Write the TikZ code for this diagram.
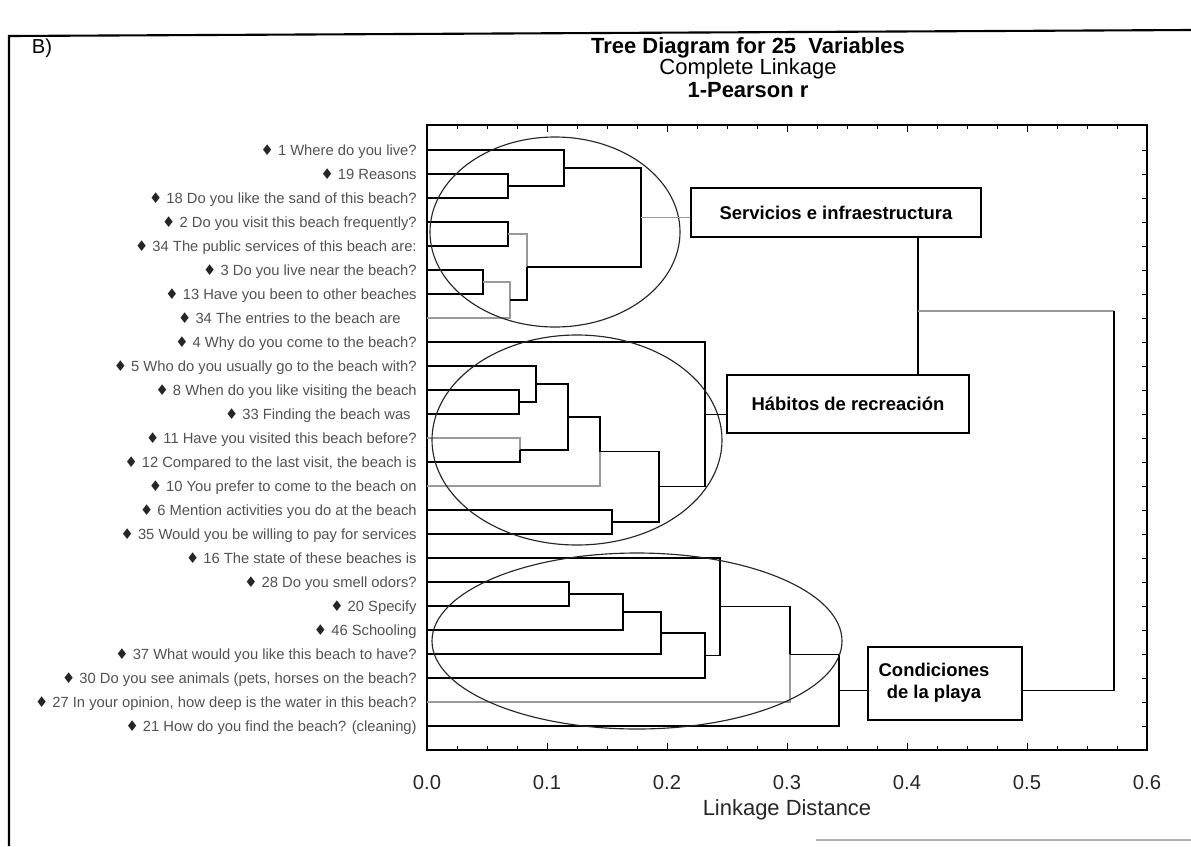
\documentclass[tikz,border=0pt]{standalone}
\usepackage{fontspec}
\setmainfont{Liberation Sans}
\newfontfamily\symfont{DejaVu Sans}
\usetikzlibrary{calc}
\newcommand{\dia}{{\symfont\color{black!85}♦}}

\begin{document}
\begin{tikzpicture}[x=0.02cm, y=-0.02cm,
  den/.style={line width=0.75pt, black},
  faint/.style={line width=0.8pt, black!40},
  lab/.style={anchor=east, inner sep=0pt, text height=1.5ex, text depth=0.3ex,
              font=\fontsize{8.4}{10}\selectfont, text=black!68},
  catbox/.style={draw, line width=0.9pt, inner sep=0pt, align=center,
              font=\bfseries\fontsize{10.5}{12.5}\selectfont},
  ring/.style={line width=0.65pt, black!85},
  axlab/.style={font=\fontsize{11.5}{13}\selectfont, text=black!85, inner sep=0pt},
  ttl/.style={inner sep=0pt},
]
\useasboundingbox (0,0) rectangle (1191,846);

% page frame
\draw[line width=1.2pt] (9,846) -- (9,36) -- (1191,30);
\draw[line width=0.8pt, black!30] (816,840) -- (1191,840);

% headings
\node[ttl, font=\fontsize{11.5}{13}\selectfont] (panel) at (42,48) {B)};
\node[ttl, font=\bfseries\fontsize{12.5}{14}\selectfont] (t1) at (748,48) {Tree Diagram for 25\ \ Variables};
\node[ttl, font=\fontsize{12.5}{14}\selectfont] (t2) at (748,69) {Complete Linkage};
\node[ttl, font=\bfseries\fontsize{12.5}{14}\selectfont] (t3) at (748,90) {1-Pearson r};

% plot frame and ticks
\draw[line width=0.8pt] (427,125) rectangle (1147,750);
\foreach \k in {0,...,24}{
  \pgfmathsetmacro\len{mod(\k,4)==0 ? 7 : 4}
  \draw[line width=0.5pt] (427+30*\k,125) -- ++(0,\len);
  \draw[line width=0.5pt] (427+30*\k,750) -- ++(0,-\len);
}
\foreach \i in {0,...,24}
  \draw[line width=0.5pt] (1147,150+24*\i) -- ++(-5,0);

% axis labels
\foreach \v [count=\k from 0] in {0.0,0.1,0.2,0.3,0.4,0.5,0.6}
  \node[axlab] (x\k) at (427+120*\k,783) {\v};
\node[axlab, font=\fontsize{12.5}{14}\selectfont] (xt) at (787,810) {Linkage Distance};

% leaves
\foreach \i in {1,...,25}
  \coordinate (L\i) at (427,126+24*\i);

\node[lab] (v1)  at (417,150) {\dia\ 1 Where do you live?};
\node[lab] (v2)  at (417,174) {\dia\ 19 Reasons};
\node[lab] (v3)  at (417,198) {\dia\ 18 Do you like the sand of this beach?};
\node[lab] (v4)  at (417,222) {\dia\ 2 Do you visit this beach frequently?};
\node[lab] (v5)  at (417,246) {\dia\ 34 The public services of this beach are:};
\node[lab] (v6)  at (417,270) {\dia\ 3 Do you live near the beach?};
\node[lab] (v7)  at (417,294) {\dia\ 13 Have you been to other beaches};
\node[lab] (v8)  at (401,318) {\dia\ 34 The entries to the beach are};
\node[lab] (v9)  at (417,342) {\dia\ 4 Why do you come to the beach?};
\node[lab] (v10) at (417,366) {\dia\ 5 Who do you usually go to the beach with?};
\node[lab] (v11) at (417,390) {\dia\ 8 When do you like visiting the beach};
\node[lab] (v12) at (411,414) {\dia\ 33 Finding the beach was};
\node[lab] (v13) at (417,438) {\dia\ 11 Have you visited this beach before?};
\node[lab] (v14) at (417,462) {\dia\ 12 Compared to the last visit, the beach is};
\node[lab] (v15) at (417,486) {\dia\ 10 You prefer to come to the beach on};
\node[lab] (v16) at (417,510) {\dia\ 6 Mention activities you do at the beach};
\node[lab] (v17) at (417,534) {\dia\ 35 Would you be willing to pay for services};
\node[lab] (v18) at (417,558) {\dia\ 16 The state of these beaches is};
\node[lab] (v19) at (417,582) {\dia\ 28 Do you smell odors?};
\node[lab] (v20) at (417,606) {\dia\ 20 Specify};
\node[lab] (v21) at (417,630) {\dia\ 46 Schooling};
\node[lab] (v22) at (417,654) {\dia\ 37 What would you like this beach to have?};
\node[lab] (v23) at (417,678) {\dia\ 30 Do you see animals (pets, horses on the beach?};
\node[lab] (v24) at (417,702) {\dia\ 27 In your opinion, how deep is the water in this beach?};
\node[lab] (v25) at (417,726) {\dia\ 21 How do you find the beach? (cleaning)};

% merge points
\coordinate (N1) at (508,186);
\coordinate (N2) at (564,168);
\coordinate (N3) at (508,234);
\coordinate (N4) at (483,282);
\coordinate (N5) at (510,300);
\coordinate (N6) at (527,267);
\coordinate (N7) at (641,217.5);

\coordinate (M1) at (519,402);
\coordinate (M2) at (536,384);
\coordinate (M3) at (520,450);
\coordinate (M4) at (568,417);
\coordinate (M5) at (600,451.5);
\coordinate (M6) at (612,522);
\coordinate (M7) at (659,486.75);
\coordinate (M8) at (705,414.4);

\coordinate (K1) at (569,594);
\coordinate (K2) at (623,612);
\coordinate (K3) at (661,633);
\coordinate (K4) at (705,655.5);
\coordinate (K5) at (720,606.75);
\coordinate (K6) at (790,654.4);
\coordinate (K7) at (839,690.2);

% first cluster
\draw[den] (L2) -| (N1);  \draw[den] (L3) -| (N1);
\draw[den] (L1) -| (N2);  \draw[den] (N1) -| (N2);
\draw[den] (L4) -| (N3);  \draw[den] (L5) -| (N3);
\draw[den] (L6) -| (N4);  \draw[den] (L7) -| (N4);
\draw[faint] (N4) -| (N5); \draw[faint] (L8) -| (N5);
\draw[faint] (N3) -| (N6); \draw[den] (N5) -| (N6);
\draw[den] (N2) -| (N7);  \draw[den] (N6) -| (N7);

% second cluster
\draw[den] (L11) -| (M1); \draw[den] (L12) -| (M1);
\draw[den] (L10) -| (M2); \draw[den] (M1) -| (M2);
\draw[faint] (L13) -| (M3); \draw[den] (L14) -| (M3);
\draw[den] (M2) -| (M4);  \draw[den] (M3) -| (M4);
\draw[den] (M4) -| (M5);  \draw[faint] (L15) -| (M5);
\draw[den] (L16) -| (M6); \draw[den] (L17) -| (M6);
\draw[den] (M5) -| (M7);  \draw[den] (M6) -| (M7);
\draw[den] (L9) -| (M8);  \draw[den] (M7) -| (M8);

% third cluster
\draw[den] (L19) -| (K1); \draw[den] (L20) -| (K1);
\draw[den] (K1) -| (K2);  \draw[den] (L21) -| (K2);
\draw[den] (K2) -| (K3);  \draw[den] (L22) -| (K3);
\draw[den] (K3) -| (K4);  \draw[den] (L23) -| (K4);
\draw[den] (L18) -| (K5); \draw[den] (K4) -| (K5);
\draw[den] (K5) -| (K6);  \draw[faint] (L24) -| (K6);
\draw[den] (K6) -| (K7);  \draw[den] (L25) -| (K7);

% cluster outlines
\draw[ring] (555,232) ellipse [x radius=125, y radius=95];
\draw[ring] (577,440) ellipse [x radius=145, y radius=105];
\draw[ring] (637,641) ellipse [x radius=205, y radius=88];

% category boxes
\node[catbox, minimum width=5.8cm, minimum height=0.98cm] (serv) at (836,212.5) {Servicios e infraestructura};
\node[catbox, minimum width=4.84cm, minimum height=1.16cm] (hab) at (848,404) {Hábitos de recreación};
\node[catbox, minimum width=3.08cm, minimum height=1.46cm] (cond) at (945,683.5)
  {\begin{tabular}{@{}c@{}}Condiciones\\de la playa\end{tabular}\hspace*{0.44cm}};

% links from clusters to boxes
\draw[faint] (N7) -- (serv.west |- N7);
\draw[den] (M8) -- (hab.west |- M8);
\draw[den] (K7) -- (cond.west |- K7);

% links between boxes
\coordinate (J1) at (918,311);
\coordinate (J2) at (1114,311);
\draw[den] (serv.south -| J1) -- (hab.north -| J1);
\draw[faint] (J1) -- (J2);
\draw[den] (J2) |- (cond.east |- K7);
\end{tikzpicture}
\end{document}
